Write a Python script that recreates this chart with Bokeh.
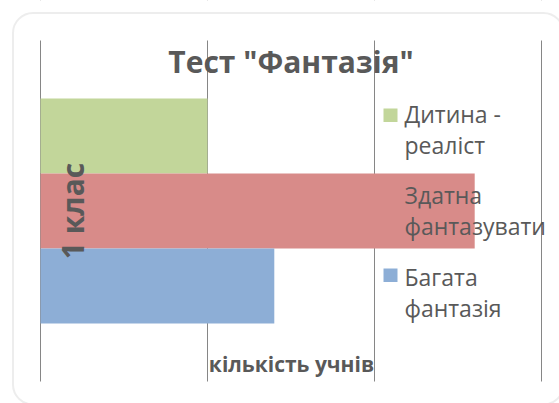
from bokeh.plotting import figure
from bokeh.models import Range1d, Label, BoxAnnotation, FixedTicker
from bokeh.core.properties import value
from bokeh.embed import file_html
from bokeh.resources import INLINE
import math

# ---- data ----
title_text = 'Тест "Фантазія"'
group = "1 клас"
series = ["Дитина - реаліст", "Здатна фантазувати", "Багата фантазія"]
counts = [5, 13, 7]
colors = ["#C2D69A", "#D88B89", "#8DAED6"]
x_ticks = [0, 5, 10, 15]
x_label = "кількість учнів"

FONT = "Open Sans"
GRAY = "#595959"
W, H = 559, 403

# layout: plot area in page pixels
PX_LEFT, PX_RIGHT = 40.0, 541.0        # x_ticks[0] .. x_ticks[-1]
ppx = (PX_RIGHT - PX_LEFT) / (x_ticks[-1] - x_ticks[0])
x_start = x_ticks[0] - PX_LEFT / ppx
x_end = x_ticks[-1] + (W - PX_RIGHT) / ppx

n = len(series)
ypos = [n - 1 - i for i in range(n)]    # first series on top
BAR_PX = 75.0
BOTTOM_CENTER_PX = 285.5                # pixel row of the lowest bar's centre
y_start = -(H - BOTTOM_CENTER_PX) / BAR_PX
y_end = BOTTOM_CENTER_PX / BAR_PX

p = figure(width=W, height=H, title=None,
           x_range=Range1d(x_start, x_end), y_range=Range1d(y_start, y_end),
           output_backend="svg", toolbar_location=None,
           min_border=0, min_border_left=0, min_border_right=0,
           min_border_top=0, min_border_bottom=0)
p.outline_line_color = None
p.axis.visible = False
p.ygrid.visible = False
p.xgrid.ticker = FixedTicker(ticks=x_ticks)
p.xgrid.grid_line_color = "#868686"
p.xgrid.grid_line_width = 1

def canvas_box(**kw):
    return BoxAnnotation(left_units="canvas", right_units="canvas",
                         top_units="canvas", bottom_units="canvas", **kw)

# limit the gridlines to the plot area
p.add_layout(canvas_box(left=0, right=W, top=0, bottom=40, fill_color="white",
                        fill_alpha=1, line_color=None, level="underlay"))
p.add_layout(canvas_box(left=0, right=W, top=381, bottom=H, fill_color="white",
                        fill_alpha=1, line_color=None, level="underlay"))

# legend squares (under the bars)
for i, c in enumerate(colors):
    top = 108 + i * 80
    p.add_layout(canvas_box(left=383, right=397, top=top, bottom=top + 13.5,
                            fill_color=c, fill_alpha=1, line_color=None,
                            level="underlay"))

p.hbar(y=ypos, left=0, right=counts, height=1.0,
       fill_color=colors, line_color=None)

p.text(x=[x_ticks[0]], y=[sum(ypos) / n], text=[group], angle=math.pi / 2,
       x_offset=31.5, text_font=value(FONT), text_font_style="bold",
       text_font_size="30px", text_color=GRAY,
       text_align="center", text_baseline="middle")

# legend text
for i, s in enumerate(series):
    lines = s.rsplit(" ", 1)
    for j, ln in enumerate(lines):
        p.add_layout(Label(x=404, y=113 + i * 81.5 + j * 31,
                           x_units="canvas", y_units="canvas",
                           text=ln, text_font=FONT, text_font_size="23px",
                           text_color=GRAY, text_align="left",
                           text_baseline="alphabetic"))

p.add_layout(Label(x=290.5, y=61, x_units="canvas", y_units="canvas",
                   text=title_text, text_font=FONT, text_font_style="bold",
                   text_font_size="30px", text_color=GRAY,
                   text_align="center", text_baseline="alphabetic"))

p.add_layout(Label(x=291, y=363, x_units="canvas", y_units="canvas",
                   text=x_label, text_font=FONT, text_font_style="bold",
                   text_font_size="21px", text_color=GRAY,
                   text_align="center", text_baseline="alphabetic"))

# rounded chart border (right and bottom edges fall just outside the window)
p.add_layout(canvas_box(left=12.5, right=563, top=12.5, bottom=404,
                        fill_alpha=0, line_color="#C4C4C4", line_width=2,
                        border_radius=20))

open("out.html", "w").write(file_html(p, INLINE))
